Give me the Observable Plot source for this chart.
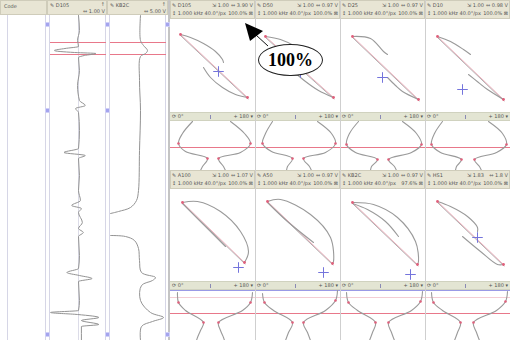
<!DOCTYPE html>
<html><head><meta charset="utf-8">
<script src="https://cdn.jsdelivr.net/npm/d3@7"></script>
<script src="https://cdn.jsdelivr.net/npm/@observablehq/plot@0.6"></script>
<style>
body{margin:0;background:#fff;font-family:"DejaVu Sans",sans-serif;}
#root{position:relative;width:510px;height:340px;overflow:hidden;background:#fff;}
.t{position:absolute;font-size:5px;line-height:5px;color:#555;white-space:nowrap;}
</style></head><body><div id="root"></div>
<script>
// ---------------- DATA ----------------
// strip chart channels (left), [depth, signal]
const stripNames = ["D105", "KB2C"];
const stripScales = ["1.00 V", "5.00 V"];
const strip1 = [[0,0],[15,1],[25,-1],[31,0],[33,-14],[35,-25],[37,-4],[38,18],[40,6],[42,0],[55,1],[70,-1],[85,1],[90,7],[93,-3],[97,0],[115,1],[133,0],[137,-15],[140,7],[143,0],[160,1],[175,0],[185,2],[190,-7],[193,3],[197,0],[207,4],[213,0],[217,5],[221,0],[240,1],[253,0],[257,-12],[260,1],[263,14],[266,0],[285,1],[295,0],[297,-29],[299,-1],[302,21],[305,3],[309,21],[311,3],[325,3]];
const strip2a = [[0,2],[25,2],[30,5],[35,9],[38,7],[41,2],[65,1],[95,2],[135,1],[175,0],[185,-2],[192,-8],[196,-20],[198,-28]];
const strip2b = [[220,-28],[221,-13],[225,-4],[233,0],[245,1],[257,3],[262,17],[265,14],[270,3],[285,2],[297,12],[302,25],[306,14],[311,3],[325,2]];
const markerDepths = [27, 39];

// Lissajous panels: channel labels
const topNames = ["D105", "D50", "D25", "D10"];
const topSpans = ["3.90 V", "0.97 V", "0.97 V", "0.98 V"];
const topGains = ["1.00", "1.00", "1.00", "1.00"];
const topPct = ["100.0%", "100.0%", "100.0%", "100.0%"];
const botNames = ["A100", "A50", "KB2C", "HS1"];
const botSpans = ["1.07 V", "0.97 V", "0.97 V", "1.8 V"];
const botGains = ["1.00", "1.00", "1.00", "1.83"];
const botPct = ["100.0%", "100.0%", "97.6%", "100.0%"];

// [horizontal, vertical] components
const topArcA = [
  [[-32,31],[-22,28],[-9,22],[3,14],[10,6],[11,3]],
  [[-32,29],[-17,26],[0,18],[13,8],[16,4]],
  [[-30,29],[-12,27],[1,14],[5,11]],
  [[-30,29],[-17,24],[-4,16],[3,11]]
];
const topArcB = [
  [[-9,-2],[-2,-12],[10,-22],[23,-29],[35,-32]],
  [[-4,-6],[8,-16],[21,-25],[36,-32]],
  [[5,-12],[13,-20],[20,-26],[36,-34]],
  [[1,-9],[11,-17],[20,-24],[36,-34]]
];
const topDiag = [
  [[-32,31],[35,-32]],
  [[-32,29],[36,-32]],
  [[-30,29],[36,-34]],
  [[-30,29],[36,-34]]
];
const topCross = [[6,-6],[3,-7],[0,-12],[-5,-24]];

const botArcA = [
  [[-30,33],[-15,34],[8,24],[28,4],[36,-16],[32,-27]],
  [[-30,34],[-17,36],[13,21],[33,-2],[36,-26],[35,-28]],
  [[-30,33],[-9,31],[15,18],[33,-6],[36,-26],[35,-29]],
  [[-30,34],[-17,29],[0,19],[10,8],[10,4]]
];
const botArcB = [
  [[-30,32],[-9,11],[13,-11]],
  [[-30,33],[-10,14],[16,-7]],
  [[-30,32],[-15,26],[3,14],[16,-1]],
  [[-5,-1],[13,-16],[30,-29],[36,-29]]
];
const botDiag = [
  [[-30,33],[32,-27]],
  [[-30,34],[35,-28]],
  [[-30,33],[35,-29]],
  [[-30,34],[36,-29]]
];
const botCross = [[26,-32],[26,-37],[28,-39],[10,-2]];

// waveform traces [amplitude, time]
const topWaveL = [
  [[22,0],[12,12],[8,22],[15,30],[37,37],[32,45],[30,49]],
  [[17,0],[10,12],[7,22],[16,30],[37,37],[32,45],[31,49]],
  [[18,0],[9,12],[6,23],[15,31],[37,38],[31,45],[30,49]],
  [[17,0],[9,12],[6,23],[15,31],[36,38],[31,45],[30,49]]
];
const topWaveR = [
  [[60,0],[74,12],[80,22],[70,31],[48,37],[53,45],[55,49]],
  [[62,0],[76,12],[80,22],[70,31],[48,37],[54,45],[56,49]],
  [[62,0],[76,12],[81,23],[71,31],[48,38],[54,45],[56,49]],
  [[63,0],[77,12],[81,23],[71,31],[49,38],[54,45],[56,49]]
];
const botWaveL = [
  [[7,2],[8,12],[15,20],[33,32],[30,40],[27,47],[26,50]],
  [[7,3],[9,12],[18,20],[37,32],[33,42],[30,50]],
  [[6,2],[8,12],[17,20],[35,32],[32,42],[29,50]],
  [[6,2],[8,12],[17,20],[35,32],[32,42],[29,50]]
];
const botWaveR = [
  [[82,2],[80,12],[72,20],[48,32],[50,40],[53,47],[54,50]],
  [[82,0],[80,10],[70,20],[48,32],[52,42],[55,50]],
  [[82,1],[80,11],[71,20],[48,32],[51,42],[54,50]],
  [[82,1],[80,11],[71,20],[48,32],[51,42],[54,50]]
];
const topWaveMarker = 26, botWaveMarker = 23;
const phaseLabels = ["⟳ 0°", "+ 180 ▾"];

// ---------------- LAYOUT ----------------
const root = document.getElementById("root");
function box(x,y,w,h,css){const d=document.createElement("div");d.style.cssText=`position:absolute;left:${x}px;top:${y}px;width:${w}px;height:${h}px;box-sizing:border-box;${css||""}`;root.appendChild(d);return d;}
function txt(x,y,s,css){const d=document.createElement("div");d.className="t";d.textContent=s;d.style.left=x+"px";d.style.top=y+"px";if(css)d.style.cssText+=css;root.appendChild(d);return d;}
function rtxt(xr,y,s){const d=txt(0,y,s);d.style.left="auto";d.style.right=(510-xr)+"px";return d;}
function put(svg,x,y){svg.style.position="absolute";svg.style.left=x+"px";svg.style.top=y+"px";svg.style.background="transparent";root.appendChild(svg);}

const HDR = "background:#e8e5d4;border:1px solid #cfccba;";
const GRAY = "#9a9a9a", PINK = "#e0607c", BLUE = "#7474dc";
const XY = {x: d => d[0], y: d => d[1]};

// left region headers
box(0,0,47,15,HDR); txt(4,4,"Code");
box(47,0,60,15,HDR); txt(50,3,"✎ " + stripNames[0]); rtxt(105,2,"↑"); rtxt(105,9,"⇔ " + stripScales[0]);
box(107,0,61,15,HDR); txt(110,3,"✎ " + stripNames[1]); rtxt(166,2,"↑"); rtxt(166,9,"⇔ " + stripScales[1]);
// guide lines
[7,45,49,105,109,165].forEach(x => box(x,15,1,325,"background:#d6d6e6;"));
box(168,0,2,340,"background:#c4c4c4;");
// slider squares
[[45,22],[105,22],[165,22],[45,108],[105,108],[45,332],[105,332],[165,332]].forEach(([x,y]) => box(x,y,5,5,"background:#a4a4ee;border:1px solid #d0d0f6;"));

// strip charts
put(Plot.plot({width:56,height:325,margin:0,
  x:{domain:[-29,29],axis:null}, y:{domain:[0,325],reverse:true,axis:null},
  marks:[
    Plot.ruleX([0],{stroke:"#dcdce8"}),
    Plot.ruleY(markerDepths,{stroke:"#e8788a",strokeWidth:1}),
    Plot.line(strip1,{x:d=>d[1],y:d=>d[0],stroke:"#939393",strokeWidth:1,curve:"monotone-y"})
  ]}),50,15);
put(Plot.plot({width:56,height:325,margin:0,
  x:{domain:[-28,28],axis:null}, y:{domain:[0,325],reverse:true,axis:null},
  marks:[
    Plot.ruleY(markerDepths,{stroke:"#e8788a",strokeWidth:1}),
    Plot.line(strip2a,{x:d=>d[1],y:d=>d[0],stroke:"#939393",strokeWidth:1,curve:"catmull-rom"}),
    Plot.line(strip2b,{x:d=>d[1],y:d=>d[0],stroke:"#939393",strokeWidth:1,curve:"catmull-rom"})
  ]}),110,15);

// right panels
const cellX = [170,255,340,425];
function lissajous(x0,y0,arcA,arcB,diag,cross){
  put(Plot.plot({width:85,height:92,margin:0,
    x:{domain:[-42,43],axis:null}, y:{domain:[-46,46],axis:null},
    marks:[
      Plot.line(diag,{...XY,stroke:"#b0b0b0",strokeWidth:1,dy:1.5,dx:0.5}),
      Plot.line(diag,{...XY,stroke:"#e68ea0",strokeWidth:0.9,strokeOpacity:0.75}),
      Plot.line(arcA,{...XY,stroke:GRAY,strokeWidth:1.1,curve:"catmull-rom"}),
      Plot.line(arcB,{...XY,stroke:GRAY,strokeWidth:1.1,curve:"catmull-rom"}),
      Plot.dot(diag,{...XY,r:1.4,fill:PINK}),
      Plot.dot([cross],{...XY,symbol:"plus",r:3.5,stroke:BLUE,strokeWidth:1})
    ]}),x0,y0);
}
function wave(x0,y0,h,L,R,marker,extra,idx){
  put(Plot.plot({width:85,height:h,margin:0,
    x:{domain:[0,85],axis:null}, y:{domain:[0,h],reverse:true,axis:null},
    marks:[
      extra ? Plot.ruleY([extra],{stroke:"#f4cdd4"}) : null,
      Plot.ruleY([marker],{stroke:"#e8788a",strokeWidth:1}),
      Plot.line(L,{...XY,stroke:GRAY,strokeWidth:1.1,curve:"catmull-rom"}),
      Plot.line(R,{...XY,stroke:GRAY,strokeWidth:1.1,curve:"catmull-rom"}),
      Plot.dot([L[idx[0]],L[idx[1]],R[idx[0]],R[idx[1]]],{...XY,r:1.3,fill:PINK})
    ]}),x0,y0);
}
function header(x0,y0,name,gain,span,pct){
  box(x0,y0,85,19,HDR);
  txt(x0+2,y0+3,"✎ "+name);
  txt(x0+42,y0+3,"⇲ "+gain);
  rtxt(x0+83,y0+3,"⇔ "+span);
  txt(x0+2,y0+11,"↕ 1.000 kHz   40.0°/px");
  rtxt(x0+83,y0+11,pct+" ⊠");
}
function bar(x0,y0){
  box(x0,y0,85,9,"background:#e3e5d3;border-top:1px solid #d0d2bf;border-bottom:1px solid #d0d2bf;");
  txt(x0+2,y0+2,phaseLabels[0]);
  rtxt(x0+83,y0+2,phaseLabels[1]);
  box(x0+40,y0+3,1,4,"background:#8a8ab4;");
}
cellX.forEach((x0,i) => {
  header(x0,0,topNames[i],topGains[i],topSpans[i],topPct[i]);
  lissajous(x0,19,topArcA[i],topArcB[i],topDiag[i],topCross[i]);
  bar(x0,112);
  wave(x0,121,49,topWaveL[i],topWaveR[i],topWaveMarker,null,[2,4]);
  header(x0,170,botNames[i],botGains[i],botSpans[i],botPct[i]);
  lissajous(x0,189,botArcA[i],botArcB[i],botDiag[i],botCross[i]);
  bar(x0,281);
  box(x0,290,85,1,"background:#9a9ae6;");
  wave(x0,290,50,botWaveL[i],botWaveR[i],botWaveMarker,7,[1,3]);
});
[255,340,425].forEach(x => box(x,0,1,340,"background:#cfcfcf;"));

// annotation: callout with arrow
function svgOverlay(){
  const s = d3.create("svg").attr("width",510).attr("height",340)
    .style("position","absolute").style("left","0px").style("top","0px").style("pointer-events","none");
  root.appendChild(s.node());
  return s;
}
const ov = svgOverlay();
ov.append("line").attr("x1",256).attr("y1",35).attr("x2",268).attr("y2",46).attr("stroke","#111").attr("stroke-width",1);
ov.append("path").attr("d","M245,23 L263,31 L250,41 Z").attr("fill","#000");
const callout = box(258,44,65,32,"background:#fff;border:1px solid #222;border-radius:32px/16px;font-family:'Liberation Serif','DejaVu Serif',serif;font-weight:bold;font-size:18px;line-height:30px;text-align:center;color:#000;");
callout.textContent = "100%";
</script>
</body></html>
